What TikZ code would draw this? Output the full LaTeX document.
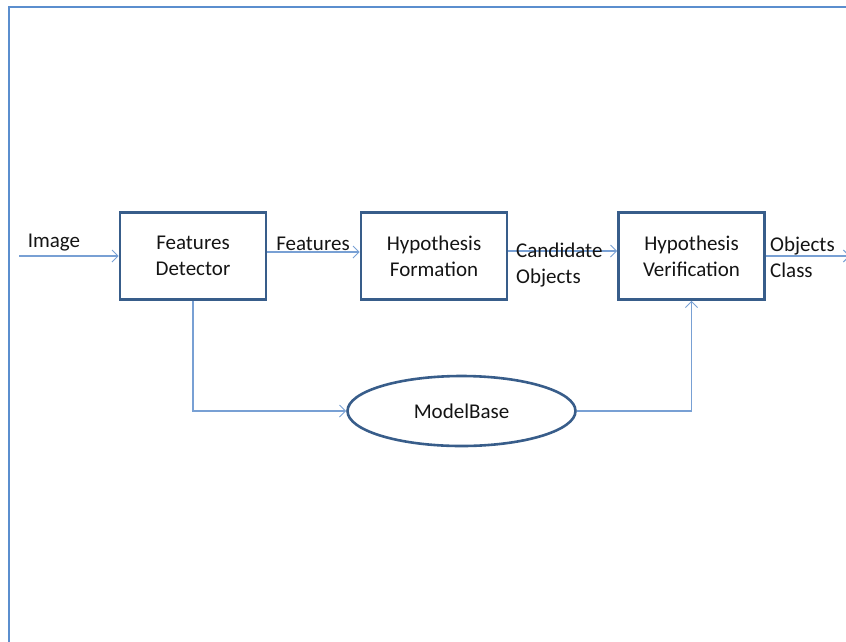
\documentclass[tikz,border=0pt]{standalone}
\usepackage{fontspec}
\setmainfont{Carlito}
\usetikzlibrary{arrows.meta,shapes.geometric}
\definecolor{framecol}{RGB}{91,142,206}
\definecolor{boxcol}{RGB}{56,93,138}
\definecolor{flowcol}{RGB}{120,160,212}
\definecolor{txtcol}{RGB}{20,20,20}
\begin{document}
\begin{tikzpicture}[x=1pt,y=-1pt,
  stage/.style={draw=boxcol,line width=2.6pt,minimum width=146pt,minimum height=87pt,
    align=center,text=txtcol,font=\fontsize{21}{26}\selectfont,inner sep=0pt},
  store/.style={ellipse,draw=boxcol,line width=2.6pt,minimum width=228pt,minimum height=70pt,
    text=txtcol,font=\fontsize{21}{26}\selectfont,inner sep=0pt},
  label/.style={text=txtcol,font=\fontsize{21}{26}\selectfont,inner sep=0pt},
  flow/.style={draw=flowcol,line width=1.1pt,-{Straight Barb[length=6pt,width=12pt,line width=1pt]}}]
\useasboundingbox (0,0) rectangle (846,641);
% outer frame
\draw[framecol,line width=2.2pt] (9,645) -- (9,7) -- (850,7);
% processing stages
\node[stage] (fd) at (193,256) {Features\\Detector};
\node[stage] (hf) at (434,256) {Hypothesis\\Formation};
\node[stage] (hv) at (691.5,256) {Hypothesis\\Verification};
\node[store] (mb) at (461.5,411) {ModelBase};
% free ends
\coordinate (in) at (19,256);
\coordinate (out) at (850,256);
% connectors
\draw[flow] (in) -- (fd.west);
\draw[flow] ([yshift=4pt]fd.east) -- ([yshift=4pt]hf.west);
\draw[flow] ([yshift=5pt]hf.east) -- ([yshift=5pt]hv.west);
\draw[flow] (hv.east) -- (out);
\draw[flow] (fd.south) |- (mb.west);
\draw[flow] (mb.east) -| (hv.south);
% labels
\node[label] (limg) at (54,243) {Image};
\node[label] (lfeat) at (313,244) {Features};
\node[label,anchor=west,align=left] (lcand) at (516,265) {Candidate\\Objects};
\node[label,anchor=west,align=left] (lcls) at (770,257) {Objects\\Class};
\end{tikzpicture}
\end{document}
